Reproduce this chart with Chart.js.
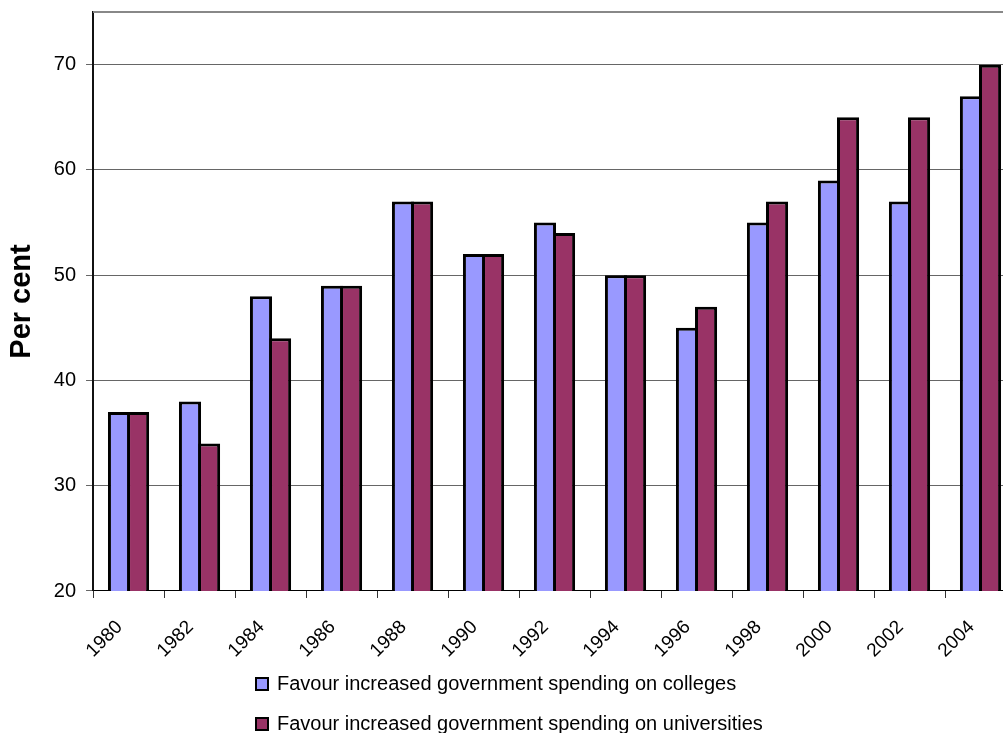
<!DOCTYPE html>
<html>
<head>
<meta charset="utf-8">
<script src="https://cdn.jsdelivr.net/npm/chart.js@4"></script>
<style>
  html, body { margin: 0; padding: 0; background: #fff; overflow: hidden; }
  #wrap { position: relative; width: 1016px; height: 733px; }
  #legend { position: absolute; left: 255px; top: 672px; font-family: 'Liberation Sans', Arial, sans-serif; font-size: 20px; color: #000; }
  .item { height: 40px; display: flex; align-items: flex-start; line-height: 23px; }
  .box { width: 10px; height: 10px; border: 2px solid #000; margin-top: 5px; margin-right: 8px; }
</style>
</head>
<body>
<div id="wrap">
  <canvas id="chart"></canvas>
  <div id="legend"></div>
</div>
<script>
const years = ['1980', '1982', '1984', '1986', '1988', '1990', '1992', '1994', '1996', '1998', '2000', '2002', '2004'];
const colleges = [37, 38, 48, 49, 57, 52, 55, 50, 45, 55, 59, 57, 67];
const universities = [37, 34, 44, 49, 57, 52, 54, 50, 47, 57, 65, 65, 70];
const seriesNames = ['Favour increased government spending on colleges', 'Favour increased government spending on universities'];
const seriesColors = ['#9999FF', '#993366'];

const font = 'Liberation Sans, Arial, sans-serif';

// grey frame line along the top of the plot
const topLine = {
    id: 'topLine',
    afterDraw(chart) {
        const { ctx, chartArea } = chart;
        ctx.save();
        ctx.strokeStyle = '#888';
        ctx.lineWidth = 2;
        ctx.beginPath();
        ctx.moveTo(chartArea.left, chartArea.top);
        ctx.lineTo(chartArea.right, chartArea.top);
        ctx.stroke();
        ctx.restore();
    }
};

const ctx = document.getElementById('chart').getContext('2d');
const chart = new Chart(ctx, {
    type: 'bar',
    data: {
        labels: years,
        datasets: [colleges, universities].map((d, i) => ({
            label: seriesNames[i],
            data: d,
            backgroundColor: seriesColors[i],
            borderColor: '#000',
            borderWidth: 3,
            borderSkipped: false,
            // bars overlap by one border width so the pair shares its middle edge
            categoryPercentage: 0.5375,
            barPercentage: 1.158
        }))
    },
    options: {
        responsive: true,
        maintainAspectRatio: false,
        animation: false,
        layout: { padding: { top: 12, bottom: 53, left: 0, right: 0 } },
        plugins: {
            legend: { display: false },
            tooltip: { enabled: false }
        },
        scales: {
            x: {
                grid: { drawOnChartArea: false, color: '#333', tickLength: 7 },
                border: { color: '#000', width: 1 },
                ticks: { font: { family: font, size: 19 }, color: '#000', maxRotation: 45, minRotation: 45, padding: 18, labelOffset: -9 }
            },
            y: {
                min: 20,
                max: 75,
                afterBuildTicks: axis => { axis.ticks = axis.ticks.filter(t => t.value % 10 === 0); },
                afterFit: axis => { axis.paddingTop = 0; axis.paddingBottom = 0; },
                grid: { color: '#666', tickLength: 7 },
                border: { color: '#111', width: 2 },
                ticks: { stepSize: 10, font: { family: font, size: 20 }, color: '#000', padding: 10 },
                title: { display: true, text: 'Per cent', font: { family: font, size: 29, weight: 'bold' }, color: '#000', padding: { top: 5, bottom: 4 } }
            }
        }
    },
    plugins: [topLine]
});

const legend = document.getElementById('legend');
seriesNames.forEach((name, i) => {
    const row = document.createElement('div');
    row.className = 'item';
    row.innerHTML = '<div class="box" style="background:' + seriesColors[i] + '"></div><span>' + name + '</span>';
    legend.appendChild(row);
});
</script>
</body>
</html>
